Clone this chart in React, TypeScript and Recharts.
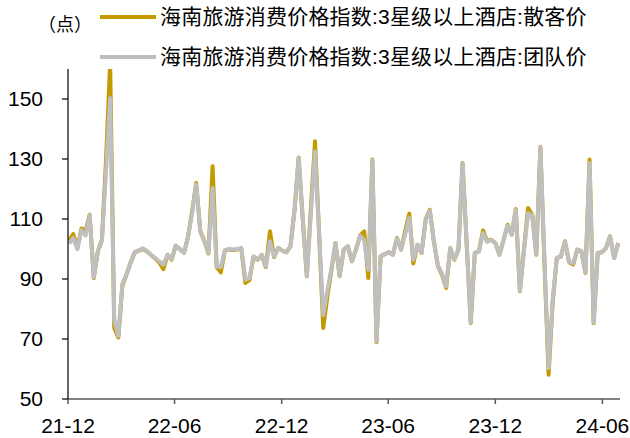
import { LineChart, Line, XAxis, YAxis } from "recharts";

// 海南旅游消费价格指数, weekly, from 2021-12-03
const firstWeek = "2021-12-03";

const sanKe = [
  102.8, 105, 100.3, 106.8, 106, 111.4, 90.3, 99.2, 103.1, 130,
  162, 73.7, 70.5, 88, 91.5, 95.5, 98.8, 99.5, 100, 99.2,
  98, 96.8, 95.5, 93.3, 98.1, 96.4, 101.1, 100, 98.7, 104,
  112.5, 122, 106, 102.6, 98.5, 127.6, 94, 92.2, 99.5, 99.8,
  99.7, 99.8, 100.2, 88.7, 89.6, 97.5, 96.4, 98, 94, 105.9,
  97.3, 100.3, 99.5, 98.9, 100.9, 113, 130.5, 110, 90.9, 114,
  135.9, 105, 73.7, 84, 93, 102, 90.9, 99.8, 100.9, 95.9,
  99.8, 104.5, 105.9, 90.3, 129.8, 68.9, 97.6, 98.3, 98.9, 98.1,
  103.7, 99.8, 106, 111.8, 95.2, 101.4, 98.7, 109.8, 113.1, 102.6,
  94.2, 91.4, 87, 100.3, 96.4, 99.8, 128.7, 102, 75.3, 98.7,
  99.2, 106.2, 102.6, 103.1, 102, 98.1, 103, 108.1, 104.8, 113.3,
  85.9, 100, 113.7, 111.4, 98.1, 134, 95, 58.1, 82, 97,
  97.5, 102.6, 95.6, 94.8, 99.8, 99.2, 92, 129.8, 75.3, 98.7,
  98.9, 100.3, 104.2, 97, 102,
];

const tuanDui = [
  101.8, 103.7, 100, 106.3, 104.5, 111.2, 90.5, 99.2, 102.8, 126,
  150.3, 76.4, 71, 88.5, 91.5, 95.5, 99, 99.5, 100.2, 99.2,
  98.1, 97, 95.9, 94.8, 98.1, 96.6, 101.1, 100, 98.7, 104,
  112, 121.5, 105.9, 102.6, 98.7, 120.3, 94.2, 94, 99.5, 100,
  99.8, 100, 100.3, 89.8, 90.3, 97.5, 96.5, 98, 94.3, 102.6,
  97.5, 100.3, 99.5, 98.9, 100.9, 113, 130.3, 110.5, 90.9, 112,
  132.5, 105, 78, 86, 93.5, 102, 91, 99.8, 100.9, 96,
  99.8, 104.5, 103, 93.1, 129.6, 69.2, 97.6, 98.3, 98.9, 98.1,
  103.5, 99.8, 105, 110.3, 96.4, 101.4, 98.7, 109.5, 112.8, 102.6,
  94.5, 91.8, 87.5, 100.3, 96.6, 99.8, 128.5, 102, 75.5, 98.7,
  99.2, 105.3, 102.4, 103, 102, 98.1, 103, 107.8, 104.8, 113,
  86, 99.5, 112, 111.2, 98.3, 133.8, 96, 60.3, 83, 97,
  97.5, 102.3, 95.8, 95.2, 99.8, 99.2, 92.2, 128.7, 75.5, 98.5,
  98.9, 100.3, 104.2, 97, 102,
];

const tickDates = ["2021-12-01", "2022-06-01", "2022-12-01", "2023-06-01", "2023-12-01", "2024-06-01"];
const tickLabels = ["21-12", "22-06", "22-12", "23-06", "23-12", "24-06"];
const yTicks = [50, 70, 90, 110, 130, 150];

const seriesNames = [
  "海南旅游消费价格指数:3星级以上酒店:散客价",
  "海南旅游消费价格指数:3星级以上酒店:团队价",
];
const seriesColors = ["#C49A00", "#BFBFBF"];

const DAY = 86400000;
const origin = Date.parse(tickDates[0]);
const toDay = (iso: string) => Math.round((Date.parse(iso) - origin) / DAY);

const firstDay = toDay(firstWeek);
const data = sanKe.map((v, i) => ({
  day: firstDay + 7 * i,
  sanKe: v,
  tuanDui: tuanDui[i],
}));
const tickDays = tickDates.map(toDay);
const labelOf = (d: number) => tickLabels[tickDays.indexOf(d)] ?? "";

const latin = "'Liberation Sans', Arial, 'Noto Sans CJK SC', sans-serif";

function LegendBox() {
  return (
    <div style={{ position: "absolute", left: 0, top: 0, fontFamily: latin, fontSize: 21, color: "#000" }}>
      <div style={{ position: "absolute", left: 38, top: 10, whiteSpace: "nowrap", fontSize: 18 }}>（点）</div>
      {seriesNames.map((name, i) => (
        <div
          key={name}
          style={{ position: "absolute", left: 100, top: 5 + i * 40, display: "flex", alignItems: "center", whiteSpace: "nowrap" }}
        >
          <span style={{ display: "inline-block", width: 56, height: 4, background: seriesColors[i], marginRight: 4 }} />
          <span style={{ lineHeight: "24px", letterSpacing: 0.2 }}>{name}</span>
        </div>
      ))}
    </div>
  );
}

export default function App() {
  return (
    <div style={{ position: "relative", width: 630, height: 438, background: "#fff" }}>
      <style>{"body{margin:0}"}</style>
      <LineChart width={630} height={438} data={data} margin={{ top: 69, right: 10, bottom: 9, left: 8 }}>
        <XAxis
          type="number"
          dataKey="day"
          domain={[0, 943]}
          ticks={tickDays}
          tickFormatter={labelOf}
          allowDataOverflow
          height={30}
          tickSize={5}
          tickMargin={14}
          axisLine={{ stroke: "#595959", strokeWidth: 1.5 }}
          tickLine={{ stroke: "#595959", strokeWidth: 1.5 }}
          tick={{ fill: "#000", fontSize: 21, fontFamily: latin }}
        />
        <YAxis
          domain={[50, 160]}
          ticks={yTicks}
          allowDataOverflow
          width={60}
          tickSize={6}
          tickMargin={19}
          axisLine={{ stroke: "#000", strokeWidth: 1.2 }}
          tickLine={{ stroke: "#000", strokeWidth: 1.2 }}
          tick={{ fill: "#000", fontSize: 21, fontFamily: latin }}
        />
        <Line
          type="linear"
          dataKey="sanKe"
          name={seriesNames[0]}
          stroke={seriesColors[0]}
          strokeWidth={4}
          strokeLinejoin="round"
          dot={false}
          isAnimationActive={false}
        />
        <Line
          type="linear"
          dataKey="tuanDui"
          name={seriesNames[1]}
          stroke={seriesColors[1]}
          strokeWidth={4}
          strokeLinejoin="round"
          dot={false}
          isAnimationActive={false}
        />
      </LineChart>
      <LegendBox />
    </div>
  );
}
